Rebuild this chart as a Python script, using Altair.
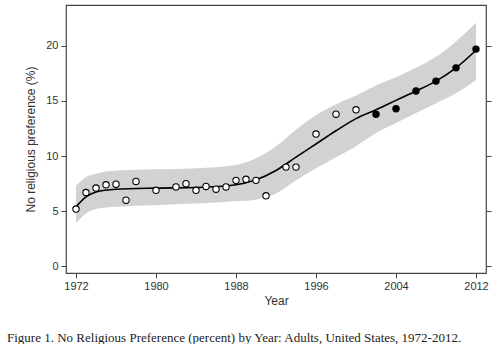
import altair as alt
import pandas as pd

# Observed survey points
years = [1972, 1973, 1974, 1975, 1976, 1977, 1978, 1980, 1982, 1983, 1984, 1985,
         1986, 1987, 1988, 1989, 1990, 1991, 1993, 1994, 1996, 1998, 2000,
         2002, 2004, 2006, 2008, 2010, 2012]
values = [5.2, 6.7, 7.1, 7.4, 7.45, 6.0, 7.7, 6.9, 7.2, 7.5, 6.9, 7.25,
          7.0, 7.2, 7.8, 7.9, 7.8, 6.4, 9.0, 9.0, 12.0, 13.8, 14.2,
          13.8, 14.3, 15.9, 16.8, 18.0, 19.7]
filled = [False] * 23 + [True] * 6

# Smoothed fit and its confidence band
fit_years = [1972, 1973, 1974, 1976, 1980, 1984, 1988, 1990, 1992, 1994, 1996,
             1998, 2000, 2002, 2004, 2006, 2008, 2010, 2012]
fit_vals = [5.4, 6.3, 6.75, 7.0, 7.1, 7.15, 7.4, 7.85, 8.7, 9.9, 11.1,
            12.3, 13.4, 14.2, 15.05, 15.9, 16.8, 18.0, 19.6]
fit_lower = [3.9, 4.8, 5.2, 5.4, 5.55, 5.7, 5.9, 6.05, 6.6, 7.8, 8.9,
             9.9, 10.9, 12.1, 13.0, 13.9, 14.8, 15.7, 16.9]
fit_upper = [7.3, 8.1, 8.4, 8.7, 8.8, 8.9, 9.2, 9.8, 10.9, 12.4, 13.7,
             14.7, 15.5, 16.4, 17.15, 18.0, 19.0, 20.4, 22.1]

x_ticks = [1972, 1980, 1988, 1996, 2004, 2012]
y_ticks = [0, 5, 10, 15, 20]

pts = pd.DataFrame({"year": years, "value": values, "filled": filled})
fit = pd.DataFrame({"year": fit_years, "fit": fit_vals, "lo": fit_lower, "hi": fit_upper})

xscale = alt.Scale(domain=[1971, 2013], nice=False, zero=False)
yscale = alt.Scale(domain=[-0.6, 23.7], nice=False, zero=False)

xaxis = alt.Axis(values=x_ticks, format="d", title="Year", domain=False, grid=False,
                 tickSize=5, labelPadding=2, titlePadding=4, labelFontSize=11,
                 titleFontSize=12, titleFontWeight="normal", labelColor="#333",
                 titleColor="#333", tickColor="#444", labelFont="Liberation Sans",
                 titleFont="Liberation Sans")
yaxis_left = alt.Axis(values=y_ticks, title="No religious preference (%)", domain=False,
                      grid=False, tickSize=5, labelPadding=3, titlePadding=8,
                      labelFontSize=11, titleFontSize=12, titleFontWeight="normal",
                      labelColor="#333", titleColor="#333", tickColor="#444",
                      labelFont="Liberation Sans", titleFont="Liberation Sans")
yaxis_right = alt.Axis(values=y_ticks, orient="right", labels=False, title=None,
                       domain=False, grid=False, tickSize=5, tickColor="#444")

band = alt.Chart(fit).mark_area(color="#d2d2d2", interpolate="monotone").encode(
    x=alt.X("year:Q", scale=xscale, axis=xaxis),
    y=alt.Y("lo:Q", scale=yscale, axis=yaxis_left),
    y2="hi:Q",
)

line = alt.Chart(fit).mark_line(color="black", strokeWidth=1.6, interpolate="monotone").encode(
    x=alt.X("year:Q", scale=xscale),
    y=alt.Y("fit:Q", scale=yscale),
)

points = alt.Chart(pts).mark_point(shape="circle", size=40, strokeWidth=1.1, opacity=1).encode(
    x=alt.X("year:Q", scale=xscale),
    y=alt.Y("value:Q", scale=yscale),
    fill=alt.Fill("filled:N", scale=alt.Scale(domain=[False, True], range=["white", "black"]), legend=None),
    stroke=alt.value("black"),
)

main = alt.layer(band, line, points)

right_ticks = alt.Chart(fit).mark_line(opacity=0).encode(
    x=alt.X("year:Q", scale=xscale),
    y=alt.Y("fit:Q", scale=yscale, axis=yaxis_right),
)

chart = alt.layer(main, right_ticks).resolve_scale(y="independent").properties(
    width=420,
    height=268,
    autosize=alt.AutoSizeParams(type="none"),
    padding={"left": 66, "top": 5, "right": 14, "bottom": 71},
    title=alt.TitleParams(
        "Figure 1. No Religious Preference (percent) by Year: Adults, United States, 1972-2012.",
        orient="bottom", anchor="start", frame="group", dx=-59, offset=26,
        font="Liberation Serif", fontSize=13, fontWeight="normal", color="#222",
    ),
).configure_view(stroke="#444", strokeWidth=1.2)

chart.save("out.html", embed_options={"renderer": "svg", "actions": False})
